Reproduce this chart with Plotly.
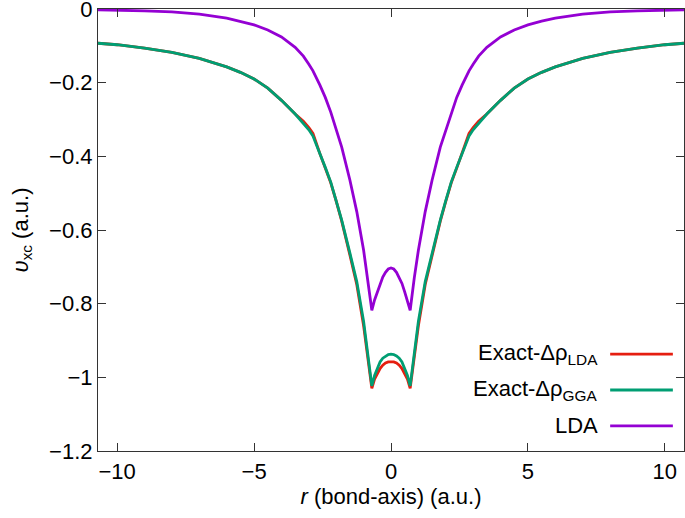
import plotly.graph_objects as go

# r along the bond axis (a.u.)
r = [-10.7, -10, -9, -8, -7, -6, -5.5, -5, -4.5, -4, -3.5, -3.2, -3.0, -2.85, -2.6, -2.4, -2.2, -2.0,
     -1.8, -1.5, -1.25, -1.0, -0.85, -0.7, -0.6, -0.5, -0.4, -0.3, -0.2, -0.1, 0,
     0.1, 0.2, 0.3, 0.4, 0.5, 0.6, 0.7, 0.85, 1.0, 1.25, 1.5, 1.8, 2.0, 2.2, 2.4, 2.6, 2.85, 3.0,
     3.2, 3.5, 4, 4.5, 5, 5.5, 6, 7, 8, 9, 10, 10.7]

exact_lda = [-0.093, -0.097, -0.106, -0.118, -0.134, -0.157, -0.172, -0.190, -0.215, -0.248, -0.285,
             -0.305, -0.322, -0.338, -0.392, -0.432, -0.472, -0.522, -0.576, -0.668, -0.748, -0.860,
             -0.945, -1.030, -1.005, -0.990, -0.976, -0.967, -0.961, -0.958, -0.957,
             -0.958, -0.961, -0.967, -0.976, -0.990, -1.005, -1.030, -0.945, -0.860, -0.748, -0.668,
             -0.576, -0.522, -0.472, -0.432, -0.392, -0.338, -0.322, -0.305, -0.285, -0.248, -0.215,
             -0.190, -0.172, -0.157, -0.134, -0.118, -0.106, -0.097, -0.093]

exact_gga = [-0.093, -0.097, -0.106, -0.118, -0.134, -0.157, -0.172, -0.190, -0.215, -0.248, -0.285,
             -0.310, -0.328, -0.345, -0.390, -0.430, -0.470, -0.520, -0.573, -0.663, -0.740, -0.848,
             -0.935, -1.023, -0.995, -0.975, -0.958, -0.948, -0.942, -0.938, -0.937,
             -0.938, -0.942, -0.948, -0.958, -0.975, -0.995, -1.023, -0.935, -0.848, -0.740, -0.663,
             -0.573, -0.520, -0.470, -0.430, -0.390, -0.345, -0.328, -0.310, -0.285, -0.248, -0.215,
             -0.190, -0.172, -0.157, -0.134, -0.118, -0.106, -0.097, -0.093]

lda = [-0.002, -0.003, -0.005, -0.008, -0.014, -0.025, -0.033, -0.043, -0.057, -0.076, -0.104,
       -0.128, -0.150, -0.168, -0.206, -0.240, -0.280, -0.330, -0.375, -0.465, -0.550, -0.655,
       -0.730, -0.818, -0.790, -0.768, -0.745, -0.728, -0.715, -0.706, -0.703,
       -0.706, -0.715, -0.728, -0.745, -0.768, -0.790, -0.818, -0.730, -0.655, -0.550, -0.465,
       -0.375, -0.330, -0.280, -0.240, -0.206, -0.168, -0.150, -0.128, -0.104, -0.076, -0.057,
       -0.043, -0.033, -0.025, -0.014, -0.008, -0.005, -0.003, -0.002]

series_names = ["Exact-Δρ<sub>LDA</sub>", "Exact-Δρ<sub>GGA</sub>", "LDA"]
series_colors = ["#e51e10", "#009e73", "#9400d3"]

x_ticks = [-10, -5, 0, 5, 10]
x_ticktext = ["−10", "−5", "0", "5", "10"]
y_ticks = [-1.2, -1.0, -0.8, -0.6, -0.4, -0.2, 0]
y_ticktext = ["−1.2", "−1", "−0.8", "−0.6", "−0.4", "−0.2", "0"]

FONT = "Liberation Sans, Arial, Helvetica, sans-serif"
AX = "#333333"
FS = 22

fig = go.Figure()
for ys, name, col in zip([exact_lda, exact_gga, lda], series_names, series_colors):
    fig.add_trace(go.Scatter(x=r, y=ys, mode="lines", name=name,
                             line=dict(color=col, width=2.8), showlegend=False))

# custom legend (text left of line sample, gnuplot style)
leg_y = [0.219, 0.138, 0.057]
for name, col, yy in zip(series_names, series_colors, leg_y):
    fig.add_annotation(x=0.857, y=yy, xref="paper", yref="paper", text=name,
                       showarrow=False, xanchor="right", yanchor="middle",
                       font=dict(size=FS, color="black", family=FONT))
    fig.add_shape(type="line", xref="paper", yref="paper", x0=0.874, x1=0.981,
                  y0=yy, y1=yy, line=dict(color=col, width=2.8))

fig.update_layout(
    width=685, height=518,
    margin=dict(l=98, r=1, t=9, b=67),
    paper_bgcolor="white", plot_bgcolor="white",
    font=dict(family=FONT, size=FS, color="black"),
    xaxis=dict(range=[-10.7, 10.7], tickvals=x_ticks, ticktext=x_ticktext,
               ticks="inside", ticklen=8, tickwidth=1, tickcolor=AX,
               showline=True, linecolor=AX, linewidth=1.2, mirror="ticks",
               showgrid=False, zeroline=False, automargin=False,
               ticklabeloverflow="allow",
               title=dict(text="<i>r</i> (bond-axis) (a.u.)", standoff=6,
                          font=dict(size=FS)),
               tickfont=dict(size=FS)),
    yaxis=dict(range=[-1.2, 0], tickvals=y_ticks, ticktext=y_ticktext,
               ticks="inside", ticklen=8, tickwidth=1, tickcolor=AX,
               showline=True, linecolor=AX, linewidth=1.2, mirror="ticks",
               showgrid=False, zeroline=False, automargin=False,
               ticklabeloverflow="allow",
               title=dict(text="<i>υ</i><sub>xc</sub> (a.u.)", standoff=14,
                          font=dict(size=FS)),
               tickfont=dict(size=FS)),
)

fig.write_html("out.html", config={"displayModeBar": False},
               post_script="document.body.style.margin='0';document.body.style.padding='0';")
